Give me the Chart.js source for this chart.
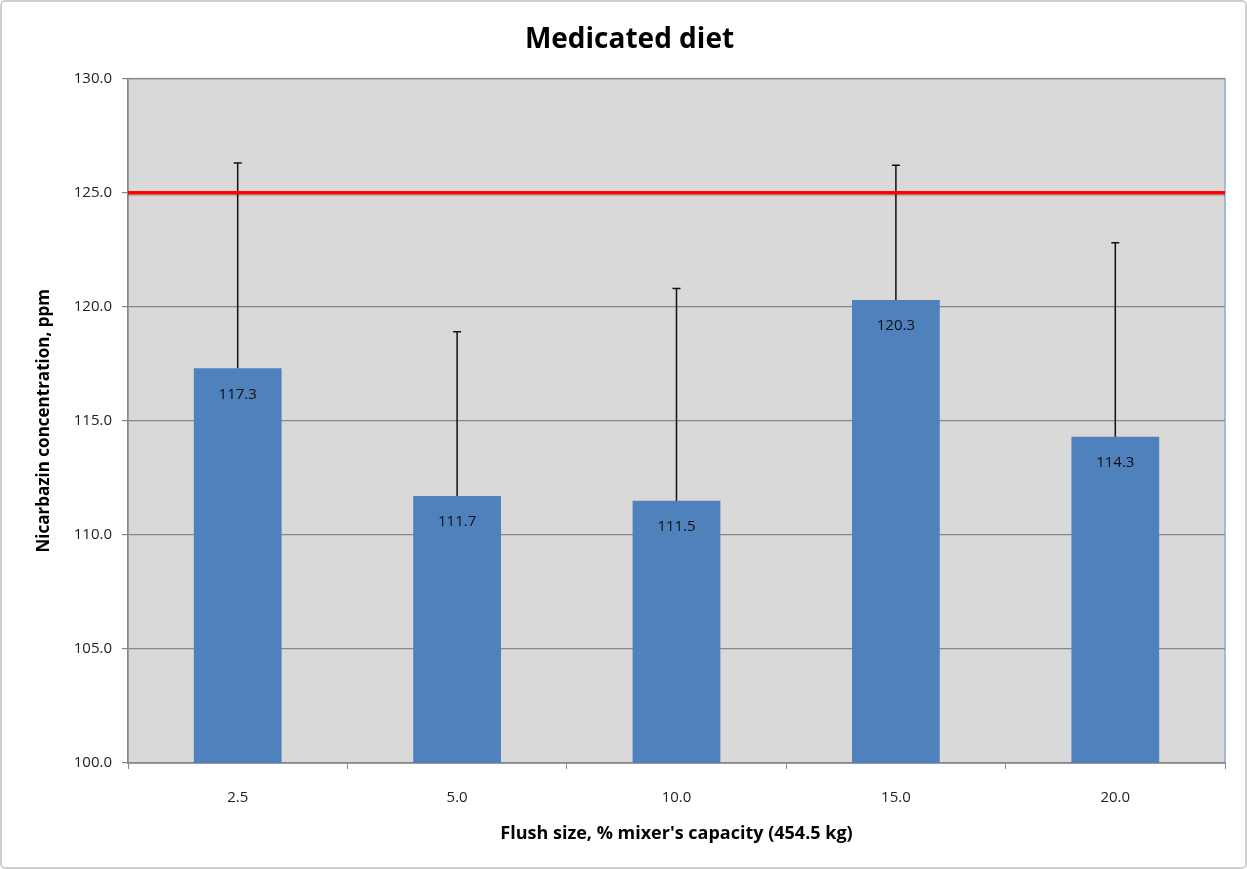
<!DOCTYPE html>
<html>
<head>
<meta charset="utf-8">
<title>Medicated diet</title>
<script src="https://cdn.jsdelivr.net/npm/chart.js@4.4.1/dist/chart.umd.min.js"></script>
<style>
  html, body { margin: 0; padding: 0; background: #fff; }
  #wrap { width: 1247px; height: 869px; position: relative; }
</style>
</head>
<body>
<div id="wrap"><canvas id="chart"></canvas></div>
<script>
// Flush size categories (% of mixer capacity)
const flushSizes = ['2.5', '5.0', '10.0', '15.0', '20.0'];
// Mean nicarbazin concentration, ppm
const meanPpm = [117.3, 111.7, 111.5, 120.3, 114.3];
// Upper error bar length (SD), ppm
const sdPpm = [9.0, 7.2, 9.3, 5.9, 8.5];
// Target concentration line
const targetPpm = 125.0;

const FONT = '"Open Sans", Lato, sans-serif';

// plot background, outer frame and plot border
const backdrop = {
  id: 'backdrop',
  beforeDraw(chart) {
    const { ctx, chartArea: a } = chart;
    ctx.save();
    ctx.fillStyle = '#fff';
    ctx.fillRect(0, 0, chart.width, chart.height);
    ctx.strokeStyle = '#c0c0c0';
    ctx.lineWidth = 1.5;
    ctx.beginPath();
    ctx.roundRect(1, 1, chart.width - 2, chart.height - 2, 4);
    ctx.stroke();
    ctx.fillStyle = '#d9d9d9';
    ctx.fillRect(a.left, a.top, a.right - a.left, a.bottom - a.top);
    ctx.strokeStyle = '#8eaad6';
    ctx.lineWidth = 1.5;
    ctx.strokeRect(a.left, a.top, a.right - a.left, a.bottom - a.top);
    ctx.restore();
  }
};

// target line, error bars, value labels
const overlays = {
  id: 'overlays',
  afterDatasetsDraw(chart) {
    const { ctx, chartArea: a, scales } = chart;
    const y = scales.y;
    const meta = chart.getDatasetMeta(0);
    ctx.save();

    // error bars (positive only)
    ctx.strokeStyle = '#111';
    ctx.lineWidth = 1.5;
    meta.data.forEach((bar, i) => {
      const top = y.getPixelForValue(meanPpm[i] + sdPpm[i]);
      ctx.beginPath();
      ctx.moveTo(bar.x, bar.y);
      ctx.lineTo(bar.x, top);
      ctx.moveTo(bar.x - 4, top);
      ctx.lineTo(bar.x + 4, top);
      ctx.stroke();
    });

    // target line
    const ty = y.getPixelForValue(targetPpm);
    ctx.strokeStyle = 'rgba(0,0,0,0.15)';
    ctx.lineWidth = 3;
    ctx.beginPath();
    ctx.moveTo(a.left, ty + 2);
    ctx.lineTo(a.right, ty + 2);
    ctx.stroke();
    ctx.strokeStyle = '#ff0000';
    ctx.lineWidth = 3.5;
    ctx.beginPath();
    ctx.moveTo(a.left, ty);
    ctx.lineTo(a.right, ty);
    ctx.stroke();

    // value labels
    ctx.fillStyle = '#111';
    ctx.font = '15px ' + FONT;
    ctx.textAlign = 'center';
    ctx.textBaseline = 'middle';
    meta.data.forEach((bar, i) => {
      ctx.fillText(meanPpm[i].toFixed(1), bar.x, bar.y + 26);
    });
    ctx.restore();
  }
};

new Chart(document.getElementById('chart'), {
  type: 'bar',
  data: {
    labels: flushSizes,
    datasets: [{
      data: meanPpm,
      backgroundColor: '#4f81bd',
      borderWidth: 0,
      categoryPercentage: 1.0,
      barPercentage: 0.4
    }]
  },
  options: {
    responsive: true,
    maintainAspectRatio: false,
    animation: false,
    layout: { padding: { top: 0, right: 22, bottom: 20, left: 34 } },
    plugins: {
      legend: { display: false },
      tooltip: { enabled: false },
      title: {
        display: true,
        text: 'Medicated diet',
        color: '#000',
        font: { family: FONT, size: 28, weight: 'bold', lineHeight: 1.2 },
        padding: { top: 23, bottom: 22 }
      }
    },
    scales: {
      x: {
        offset: true,
        grid: {
          offset: true,
          drawOnChartArea: false,
          tickLength: 6,
          color: '#878787'
        },
        border: { color: '#878787', width: 1.5 },
        ticks: {
          color: '#222',
          padding: 20,
          font: { family: FONT, size: 15 }
        },
        title: {
          display: true,
          text: "Flush size, % mixer's capacity (454.5 kg)",
          color: '#000',
          font: { family: FONT, size: 18, weight: 'bold', lineHeight: 1.2 },
          padding: { top: 4, bottom: 4 }
        },
        afterFit(scale) { scale.height = 86; }
      },
      y: {
        min: 100,
        max: 130,
        ticks: {
          stepSize: 5,
          color: '#222',
          padding: 10,
          font: { family: FONT, size: 15 },
          callback: (v) => Number(v).toFixed(1)
        },
        grid: {
          color: '#888',
          lineWidth: 1.2,
          tickLength: 6
        },
        border: { color: '#878787', width: 1.5 },
        title: {
          display: true,
          text: 'Nicarbazin concentration, ppm',
          color: '#000',
          font: { family: FONT, size: 17, weight: 'bold', lineHeight: 1.2 },
          padding: { top: 0, bottom: 0 }
        },
        afterFit(scale) { scale.width = 94; }
      }
    }
  },
  plugins: [backdrop, overlays]
});
</script>
</body>
</html>
